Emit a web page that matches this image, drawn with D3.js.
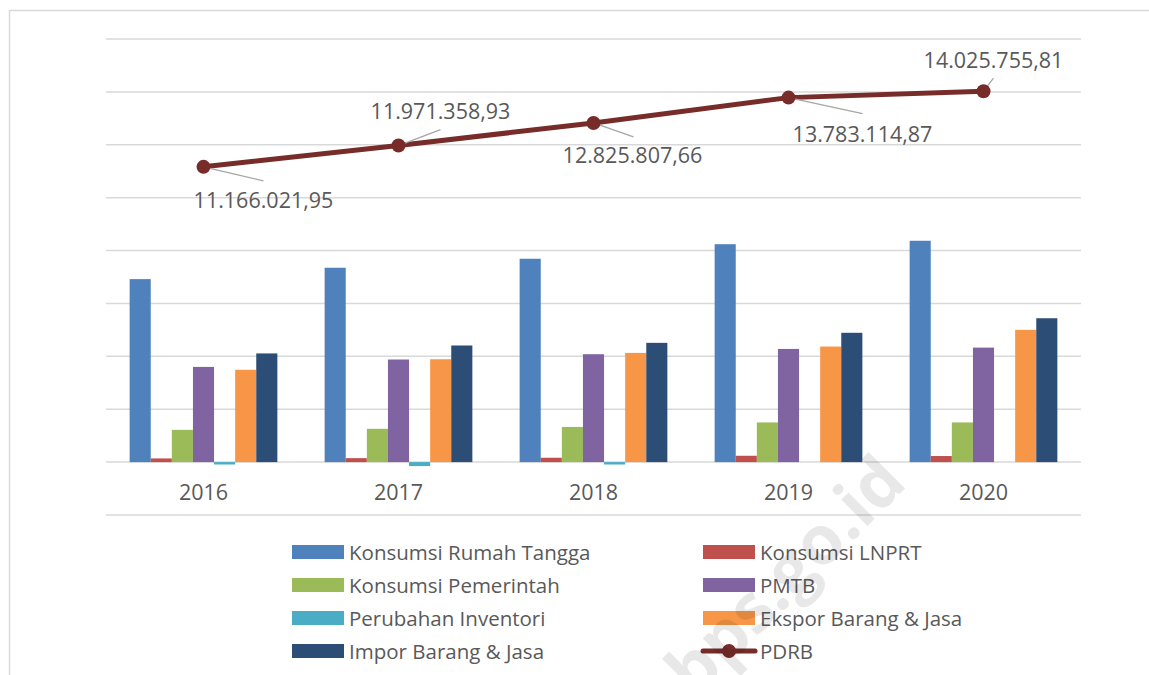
<!DOCTYPE html>
<html>
<head>
<meta charset="utf-8">
<script src="https://cdn.jsdelivr.net/npm/d3@7"></script>
<style>
  body { margin: 0; background: #fff; }
  text { font-family: "Open Sans", sans-serif; fill: #595959; }
</style>
</head>
<body>
<script>
const width = 1149, height = 675;

// data
const years = ['2016', '2017', '2018', '2019', '2020'];
const barSeries = ['Konsumsi Rumah Tangga', 'Konsumsi LNPRT', 'Konsumsi Pemerintah', 'PMTB',
                   'Perubahan Inventori', 'Ekspor Barang & Jasa', 'Impor Barang & Jasa'];
const rumahTangga = [6920000, 7350000, 7690000, 8240000, 8370000];
const lnprt       = [140000, 150000, 165000, 240000, 230000];
const pemerintah  = [1220000, 1260000, 1330000, 1500000, 1500000];
const pmtb        = [3600000, 3880000, 4080000, 4280000, 4330000];
const inventori   = [-90000, -150000, -90000, 0, 0];
const ekspor      = [3490000, 3890000, 4130000, 4370000, 5000000];
const impor       = [4110000, 4410000, 4510000, 4890000, 5440000];
const pdrb        = [11166021.95, 11971358.93, 12825807.66, 13783114.87, 14025755.81];
const pdrbLabels  = ['11.166.021,95', '11.971.358,93', '12.825.807,66', '13.783.114,87', '14.025.755,81'];
const yTicks      = [-2e6, 0, 2e6, 4e6, 6e6, 8e6, 10e6, 12e6, 14e6, 16e6];
const legendOrder = ['Konsumsi Rumah Tangga', 'Konsumsi LNPRT', 'Konsumsi Pemerintah', 'PMTB',
                     'Perubahan Inventori', 'Ekspor Barang & Jasa', 'Impor Barang & Jasa', 'PDRB'];

const barValues = [rumahTangga, lnprt, pemerintah, pmtb, inventori, ekspor, impor];
const colors = ['#4F81BD', '#C0504D', '#9BBB59', '#8064A2', '#4BACC6', '#F79646', '#2C4D75'];
const lineColor = '#772C2A';

// label placement relative to each point: [dx, dy baseline, leader dx, leader dy]
const labelPos = [[60, 41, 60, 14], [42, -27, 42, -16], [39, 40, 40, 14], [74, 44, 74, 16], [10, -23, 10, -13]];

const svg = d3.select('body').append('svg')
    .attr('width', width)
    .attr('height', height);

// chart frame
svg.append('rect')
    .attr('x', 9.5).attr('y', 10.5)
    .attr('width', width + 20).attr('height', height + 20)
    .attr('fill', 'none')
    .attr('stroke', '#d9d9d9')
    .attr('stroke-width', 1.5);

const x0 = d3.scaleBand().domain(years).range([106, 1081]);
const x1 = d3.scaleBand().domain(barSeries).range([0, x0.bandwidth()]).paddingOuter(1.12);
const y = d3.scaleLinear().domain([-2e6, 16e6]).range([515, 39]);

// gridlines
svg.append('g')
  .selectAll('line')
  .data(yTicks)
  .enter().append('line')
    .attr('x1', 106).attr('x2', 1081)
    .attr('y1', d => y(d)).attr('y2', d => y(d))
    .attr('stroke', '#d9d9d9')
    .attr('stroke-width', 1.5);

// bars
barSeries.forEach((s, i) => {
  svg.append('g')
    .selectAll('rect')
    .data(years.map((yr, j) => ({ yr, v: barValues[i][j] })))
    .enter().append('rect')
      .attr('x', d => x0(d.yr) + x1(s))
      .attr('y', d => y(Math.max(0, d.v)))
      .attr('width', x1.bandwidth())
      .attr('height', d => Math.abs(y(d.v) - y(0)))
      .attr('fill', colors[i]);
});

// x axis labels
svg.append('g')
  .selectAll('text')
  .data(years)
  .enter().append('text')
    .attr('x', d => x0(d) + x0.bandwidth() / 2)
    .attr('y', 500)
    .attr('text-anchor', 'middle')
    .style('font-size', '21.5px')
    .text(d => d);

// PDRB line
const pts = years.map((yr, j) => ({ x: x0(yr) + x0.bandwidth() / 2, y: y(pdrb[j]), j }));
svg.append('path')
    .datum(pts)
    .attr('d', d3.line().x(d => d.x).y(d => d.y))
    .attr('fill', 'none')
    .attr('stroke', lineColor)
    .attr('stroke-width', 5)
    .attr('stroke-linejoin', 'round');

// leader lines
svg.append('g')
  .selectAll('line')
  .data(pts)
  .enter().append('line')
    .attr('x1', d => d.x).attr('y1', d => d.y)
    .attr('x2', d => d.x + labelPos[d.j][2])
    .attr('y2', d => d.y + labelPos[d.j][3])
    .attr('stroke', '#a6a6a6')
    .attr('stroke-width', 1.3);

svg.append('g')
  .selectAll('circle')
  .data(pts)
  .enter().append('circle')
    .attr('cx', d => d.x).attr('cy', d => d.y)
    .attr('r', 7)
    .attr('fill', lineColor);

// data labels
svg.append('g')
  .selectAll('text')
  .data(pts)
  .enter().append('text')
    .attr('x', d => d.x + labelPos[d.j][0])
    .attr('y', d => d.y + labelPos[d.j][1])
    .attr('text-anchor', 'middle')
    .style('font-size', '21.5px')
    .text(d => pdrbLabels[d.j]);

// legend
const legend = svg.append('g')
  .selectAll('g')
  .data(legendOrder)
  .enter().append('g')
    .attr('transform', (d, i) => `translate(${i % 2 ? 703 : 292}, ${552 + Math.floor(i / 2) * 33})`);

legend.each(function (d) {
  const g = d3.select(this);
  if (d === 'PDRB') {
    g.append('line')
        .attr('x1', 0).attr('x2', 52)
        .attr('stroke', lineColor)
        .attr('stroke-width', 5)
        .attr('stroke-linecap', 'round');
    g.append('circle').attr('cx', 26).attr('r', 7).attr('fill', lineColor);
  } else {
    g.append('rect')
        .attr('y', -7).attr('width', 52).attr('height', 14)
        .attr('fill', colors[barSeries.indexOf(d)]);
  }
  g.append('text')
      .attr('x', 57).attr('y', 7.5)
      .style('font-size', '20.5px')
      .text(d);
});

// watermark
svg.append('text')
    .attr('transform', 'translate(785,575) rotate(-45)')
    .attr('text-anchor', 'middle')
    .attr('dy', '0.35em')
    .style('font-size', '68px')
    .style('font-weight', 'bold')
    .style('fill', '#000')
    .style('fill-opacity', 0.09)
    .text('bps.go.id');
</script>
</body>
</html>
